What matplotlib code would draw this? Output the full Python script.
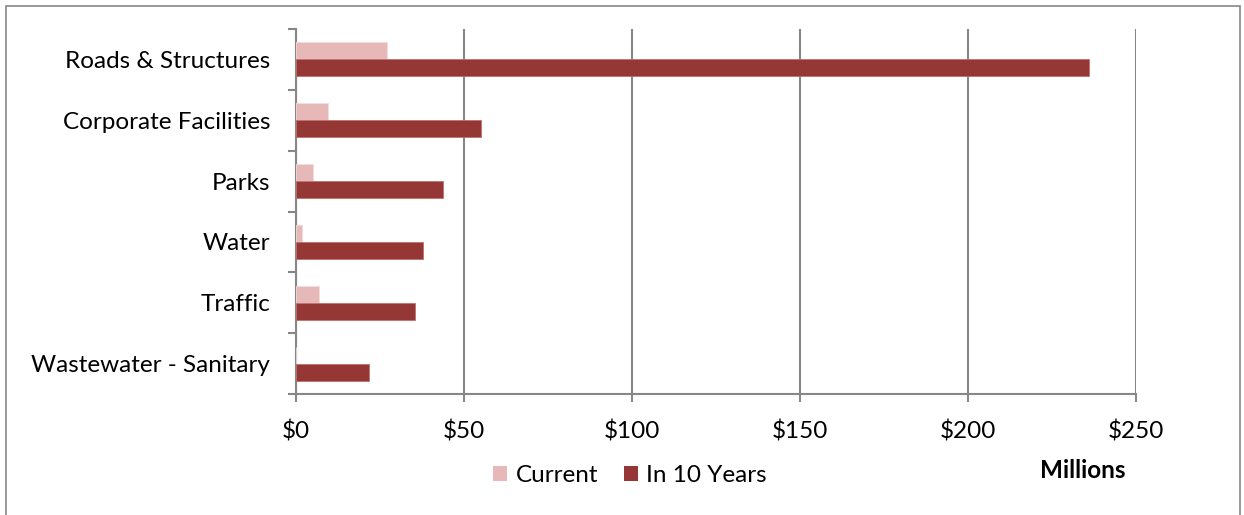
import matplotlib
matplotlib.use("Agg")
import matplotlib.pyplot as plt
import numpy as np
from matplotlib.patches import Rectangle, Patch

categories = ["Roads & Structures", "Corporate Facilities", "Parks", "Water",
              "Traffic", "Wastewater - Sanitary"]
current = [27, 9.5, 5, 1.8, 6.8, 0]
in_10_years = [236, 55, 43.8, 37.8, 35.4, 21.8]
xticks = [0, 50, 100, 150, 200, 250]
xtick_labels = ["$0", "$50", "$100", "$150", "$200", "$250"]
series_names = ["Current", "In 10 Years"]

c_cur = "#E6B9B8"
c_10 = "#953735"
grey = "#878787"
fs = 17.5

plt.rcParams['font.family'] = ['Lato', 'DejaVu Sans']

W, H = 1244, 515
fig = plt.figure(figsize=(W / 100, H / 100), dpi=100)

# outer frame
fig.patches.append(Rectangle((6 / W, -0.01), (1240 - 6) / W, 1 - 6 / H + 0.01,
                             transform=fig.transFigure, fill=False,
                             edgecolor=grey, linewidth=1.2))

ax = fig.add_axes([296 / W, 1 - 394 / H, (1136 - 296) / W, (394 - 29) / H])

n = len(categories)
y = np.arange(n)[::-1].astype(float)  # top category at highest y
h = 0.28
ax.barh(y + h / 2, current, height=h, color=c_cur, edgecolor="#F2DCDB",
        linewidth=0.6, zorder=3)
ax.barh(y - h / 2, in_10_years, height=h, color=c_10, edgecolor="#C06F6D",
        linewidth=0.6, zorder=3)

ax.set_xlim(0, 250)
ax.set_ylim(-0.5, n - 0.5)
ax.set_xticks(xticks)
ax.set_xticklabels(xtick_labels, fontsize=fs)
ax.set_yticks(y)
ax.set_yticklabels(categories, fontsize=fs)
ax.set_yticks(np.arange(-0.5, n, 1.0), minor=True)
ax.tick_params(axis='y', which='major', length=0, pad=18.5)
ax.tick_params(axis='y', which='minor', length=6, width=1.5, color=grey,
               direction='out')
ax.tick_params(axis='x', length=6, width=1.5, color=grey, direction='out', pad=13)
ax.grid(axis='x', color=grey, linewidth=1.5, zorder=0)
for s in ["top", "right"]:
    ax.spines[s].set_visible(False)
for s in ["left", "bottom"]:
    ax.spines[s].set_color(grey)
    ax.spines[s].set_linewidth(1.5)

handles = [Patch(facecolor=c_cur, edgecolor='none'), Patch(facecolor=c_10, edgecolor='none')]
fig.legend(handles, series_names, loc='center', bbox_to_anchor=(630 / W, 1 - 476 / H),
           ncol=2, frameon=False, fontsize=fs, handlelength=0.58, handleheight=0.58,
           handletextpad=0.33, columnspacing=1.07)

fig.text(1083 / W, 1 - 470 / H, "Millions", fontsize=fs, fontweight='bold',
         ha='center', va='center')

fig.savefig("out.png", dpi=100)
